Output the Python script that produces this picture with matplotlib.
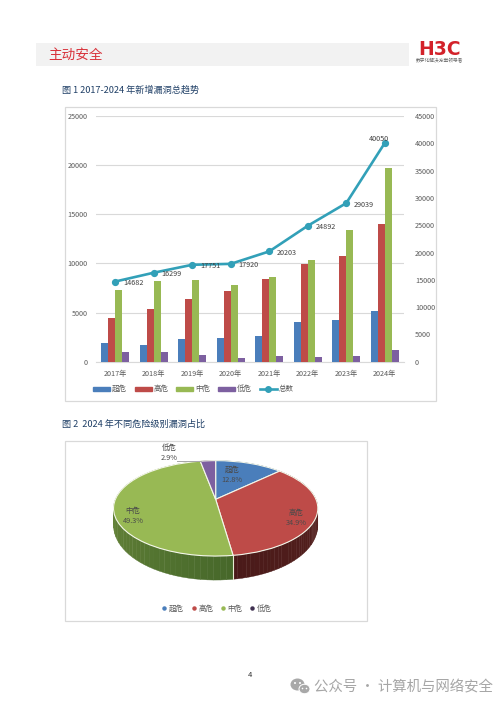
import numpy as np
import matplotlib
matplotlib.use('Agg')
import matplotlib.pyplot as plt
from matplotlib.lines import Line2D
from matplotlib.patches import Patch, Ellipse, Rectangle
from matplotlib.transforms import Transform
from matplotlib.colors import to_rgb

plt.rcParams['font.family'] = ['Noto Sans CJK SC', 'DejaVu Sans']

years = ['2017年', '2018年', '2019年', '2020年', '2021年', '2022年', '2023年', '2024年']
critical = [1930, 1660, 2300, 2400, 2580, 4070, 4270, 5120]
high = [4480, 5360, 6380, 7190, 8450, 9940, 10720, 13980]
medium = [7260, 8240, 8310, 7800, 8580, 10310, 13400, 19740]
low = [950, 950, 710, 400, 540, 510, 580, 1150]
total = [14682, 16299, 17751, 17920, 20203, 24892, 29039, 40050]
level_names = ['超危', '高危', '中危', '低危']
total_name = '总数'
pie_shares = [12.8, 34.9, 49.3, 2.9]
left_ticks = [0, 5000, 10000, 15000, 20000, 25000]
right_ticks = [0, 5000, 10000, 15000, 20000, 25000, 30000, 35000, 40000, 45000]

BLUE, RED, GREEN, PURPLE = '#4a7ebb', '#be4b48', '#98b954', '#7d60a0'
TEAL = '#32a0b8'
GREY = '#595959'
W, H = 500, 707


def px_axes(fig, x0, y0, x1, y1, **kw):
    return fig.add_axes([x0 / W, 1 - y1 / H, (x1 - x0) / W, (y1 - y0) / H], **kw)


fig = plt.figure(figsize=(5, 7.07), dpi=100, facecolor='white')

# page layer in pixel coordinates
page = px_axes(fig, 0, 0, W, H)
page.set_xlim(0, W)
page.set_ylim(H, 0)
page.axis('off')
page.add_patch(Rectangle((36, 43), 373, 23, fc='#f2f2f2', ec='none'))
page.text(48, 55, '主动安全', color='#d8323a', fontsize=9.8, va='center', ha='left', style='italic')
page.text(440, 49.5, 'H3C', color='#d3222a', fontsize=13.5, fontweight='bold',
          family='DejaVu Sans', va='center', ha='center')
page.text(440, 60.5, '数字化解决方案领导者', color='#666666', fontsize=3.4, va='center', ha='center')
page.text(62, 90, '图 1 2017-2024 年新增漏洞总趋势', color='#1f3f66', fontsize=6.6, va='center')
page.text(62, 424, '图 2  2024 年不同危险级别漏洞占比', color='#1f3f66', fontsize=6.6, va='center')
page.add_patch(Rectangle((64.5, 106.5), 371.5, 294.5, fc='white', ec='#d9d9d9', lw=0.9))
page.add_patch(Rectangle((64.5, 440.5), 302.5, 180.5, fc='white', ec='#d9d9d9', lw=0.9))
page.text(250, 675, '4', color='#333333', fontsize=5.5, ha='center', va='center')
page.add_patch(Ellipse((297.5, 684.5), 14, 12, fc='#a8a8a8', ec='none'))
page.add_patch(Ellipse((304.5, 689), 11, 9.5, fc='#a8a8a8', ec='white', lw=0.7))
for cx, cy in [(295, 683), (300, 683)]:
    page.add_patch(Ellipse((cx, cy), 2, 2, fc='white', ec='none'))
for cx, cy in [(302.5, 688.5), (306.5, 688.5)]:
    page.add_patch(Ellipse((cx, cy), 1.6, 1.6, fc='white', ec='none'))
page.text(314, 687, '公众号 · 计算机与网络安全', color='#a6a6a6', fontsize=10.4, va='center', ha='left')

# figure 1: bars on the left scale, total on the right scale
ax = px_axes(fig, 96, 116, 404, 361.7)
ax.patch.set_alpha(0)
x = np.arange(len(years))
bar_w = 0.1835
for i, (vals, col, name) in enumerate(zip([critical, high, medium, low],
                                          [BLUE, RED, GREEN, PURPLE], level_names)):
    ax.bar(x + (i - 1.5) * bar_w, vals, bar_w, color=col, label=name, zorder=3)
ax.set_xlim(-0.5, 7.5)
ax.set_ylim(0, 25000)
ax.set_yticks(left_ticks)
ax.set_xticks(x, years)
ax.grid(axis='y', color='#d9d9d9', lw=0.8, zorder=0)
ax.set_axisbelow(True)
ax.tick_params(length=0, labelsize=5.2, labelcolor=GREY)
ax.tick_params(axis='x', pad=6)
ax.tick_params(axis='y', pad=6)
for s in ('top', 'left', 'right'):
    ax.spines[s].set_visible(False)
ax.spines['bottom'].set_color('#d9d9d9')
ax.spines['bottom'].set_linewidth(0.8)

ax2 = ax.twinx()
ax2.patch.set_alpha(0)
ax2.set_ylim(0, 45000)
ax2.set_yticks(right_ticks)
ax2.tick_params(length=0, labelsize=5.2, labelcolor=GREY, pad=8)
for s in ax2.spines.values():
    s.set_visible(False)
line, = ax2.plot(x, total, color=TEAL, lw=1.9, marker='o', ms=4.2, zorder=5, label=total_name)
for i, (xi, v) in enumerate(zip(x, total)):
    last = i == len(total) - 1
    ax2.annotate(str(v), (xi, v), xytext=(-4.4, 2.8) if last else (5.5, -1),
                 textcoords='offset points', ha='center' if last else 'left',
                 va='center', fontsize=5.2, color='#404040', zorder=6)

bar_handles = [Patch(color=c, label=n) for c, n in zip([BLUE, RED, GREEN, PURPLE], level_names)]
line_handle = Line2D([], [], color=TEAL, lw=1.9, marker='o', ms=4, label=total_name)
ax.legend(handles=bar_handles + [line_handle], ncol=5, frameon=False, loc='center',
          bbox_to_anchor=(251.5 / 308 - 0.5 + 0.0, -0.112), fontsize=5.4, labelcolor=GREY,
          handlelength=2.25, handleheight=0.45, handletextpad=0.3, columnspacing=1.0,
          borderpad=0, borderaxespad=0)


# figure 2: a pie seen in perspective, in pixel coordinates of the page
class Perspective(Transform):
    input_dims = 2
    output_dims = 2

    def __init__(self, cx, cy, a, s, k):
        super().__init__()
        self.p = (cx, cy, a, s, k)

    def transform_non_affine(self, values):
        cx, cy, a, s, k = self.p
        v = np.asarray(values, float)
        w = 1 + k * v[:, 1]
        return np.column_stack([cx + a * v[:, 0] / w, cy - s * v[:, 1] / w])


pa = px_axes(fig, 64, 440, 367, 621)
wedges, _ = pa.pie(pie_shares, colors=[BLUE, RED, GREEN, PURPLE], startangle=90, counterclock=False,
                   wedgeprops=dict(edgecolor='#f4f7ea', linewidth=0.8, zorder=4))
pa.set_aspect('auto')
pa.set_frame_on(False)
pa.set_xlim(64, 367)
pa.set_ylim(621, 440)
pa.set_xticks([])
pa.set_yticks([])
persp = Perspective(215.67, 499.33, 100.3, 46.0, 0.189)
for wd in wedges:
    wd.set_transform(persp + pa.transData)

wall_from = ['#33557f', '#4a1a19', '#83a048', '#4f3d68']
wall_to = ['#33557f', '#5c2522', '#47682a', '#4f3d68']
for wd, c0, c1 in zip(wedges, wall_from, wall_to):
    th = np.radians(np.linspace(wd.theta1, wd.theta2, 60))
    # run the shade from the left of the front to the right
    if np.cos(th[0]) > np.cos(th[-1]):
        th = th[::-1]
    rim = persp.transform_non_affine(np.column_stack([np.cos(th), np.sin(th)]))
    depth = 15 + 9 * np.clip(-np.sin(th), 0, 1)
    c0, c1 = np.array(to_rgb(c0)), np.array(to_rgb(c1))
    for j in range(len(th) - 1):
        t = j / (len(th) - 2)
        col = c0 + (c1 - c0) * t
        xs = [rim[j, 0], rim[j + 1, 0], rim[j + 1, 0], rim[j, 0]]
        ys = [rim[j, 1], rim[j + 1, 1], rim[j + 1, 1] + depth[j + 1], rim[j, 1] + depth[j]]
        pa.fill(xs, ys, color=col, lw=0.3, zorder=2)

# pale seam between the green and red walls
seam_t = np.radians(wedges[1].theta1)
seam = persp.transform_non_affine(np.array([[np.cos(seam_t), np.sin(seam_t)]]))[0]
pa.plot([seam[0], seam[0]], [seam[1], seam[1] + 24], color='#e6ecd2', lw=0.8, zorder=3)

label_pos = [(232, 475), (296, 517.5), (133, 516), (169, 453)]
for n, share, (lx, ly) in zip(level_names, pie_shares, label_pos):
    pa.text(lx, ly, f'{n}\n{share}%', ha='center', va='center', fontsize=5.3,
            color='#4a4a4a', linespacing=1.35, zorder=6)
pa.plot([177, 201], [461, 461], color='#a6a6a6', lw=0.7, zorder=5)

dot_handles = [Line2D([], [], ls='none', marker='o', ms=2.2, color=c, label=n)
               for c, n in zip([BLUE, RED, GREEN, '#3f3050'], level_names)]
pa.legend(handles=dot_handles, ncol=4, frameon=False, loc='center',
          bbox_to_anchor=((217 - 64) / 303, 1 - (609 - 440) / 181), fontsize=5.4, labelcolor=GREY,
          handlelength=0.6, handletextpad=0.35, columnspacing=0.95, borderpad=0, borderaxespad=0)

fig.savefig('out.png', dpi=100, facecolor='white')
